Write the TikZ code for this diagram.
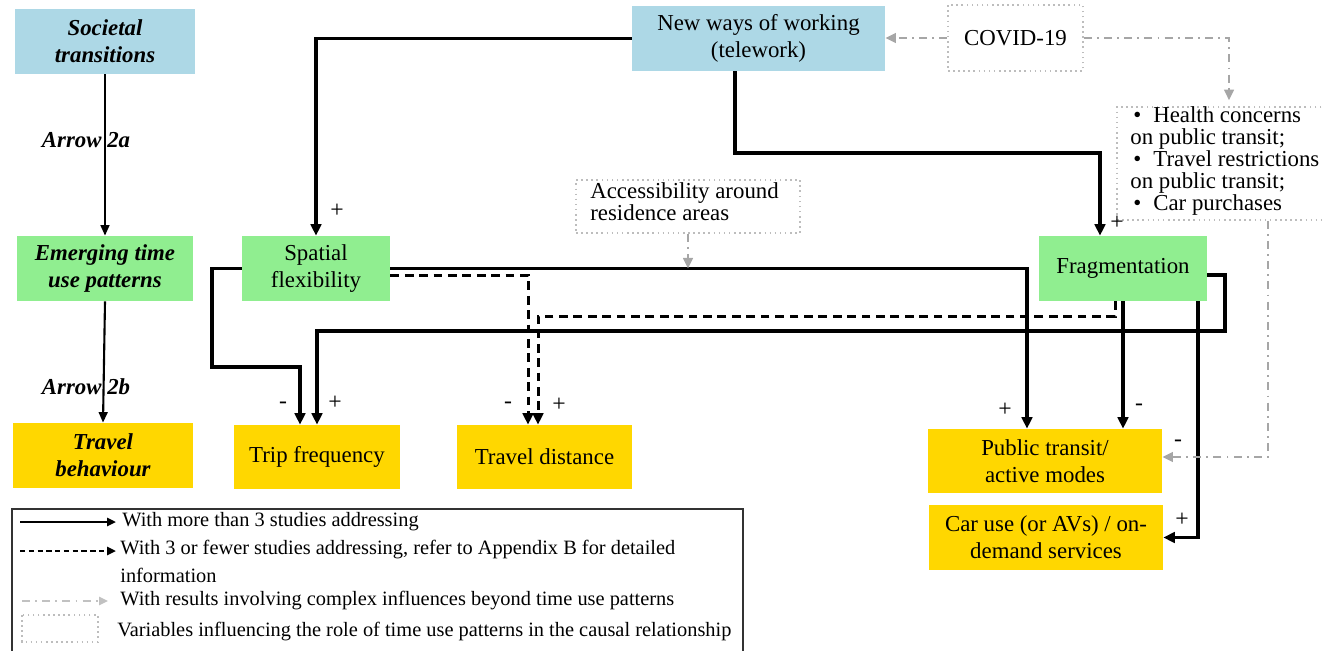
\documentclass[tikz,border=0pt]{standalone}
\usepackage{fontspec}
\setmainfont{Liberation Serif}
\usetikzlibrary{arrows.meta}
\definecolor{cblue}{HTML}{ADD8E6}
\definecolor{cgreen}{HTML}{90EE90}
\definecolor{cgold}{HTML}{FFD700}
\definecolor{cgray}{HTML}{A6A6A6}
\definecolor{cdot}{HTML}{BDBDBD}
\tikzset{
  wh/.style 2 args={minimum width=#1*0.02cm, minimum height=#2*0.02cm},
  box/.style={inner sep=0pt, align=center, font=\fontsize{13}{15.5}\selectfont},
  bluebox/.style={box, fill=cblue},
  greenbox/.style={box, fill=cgreen},
  goldbox/.style={box, fill=cgold},
  dotbox/.style={box, draw=cdot, line width=0.9pt, dotted},
  sign/.style={inner sep=0pt, font=\fontsize{13.5}{15}\selectfont},
  lab/.style={inner sep=0pt, font=\fontsize{13}{15}\selectfont\bfseries\itshape},
  legtext/.style={inner sep=0pt, anchor=west, font=\fontsize{11.6}{13}\selectfont},
  thinarrow/.style={line width=1.2pt, -{Triangle[length=6pt,width=5pt]}},
  solidarrow/.style={line width=1.9pt, -{Triangle[length=6.5pt,width=6pt]}},
  dasharrow/.style={line width=1.7pt, dash pattern=on 5pt off 3.2pt, -{Triangle[length=6.5pt,width=6pt]}},
  grayarrow/.style={line width=1.2pt, cgray, dash pattern=on 4.5pt off 3pt on 1pt off 3pt, -{Triangle[length=6pt,width=5.5pt,fill=cgray]}},
}
\begin{document}
\begin{tikzpicture}[x=0.02cm,y=-0.02cm]
\useasboundingbox (0,0) rectangle (1325,650);

% legend
\draw[line width=0.8pt, black!80] (12,509) rectangle (743,670);
\coordinate (l1a) at (20,522); \coordinate (l1b) at (116,522);
\coordinate (l2a) at (20,551); \coordinate (l2b) at (116,551);
\coordinate (l3a) at (22,601); \coordinate (l3b) at (108,601);
\draw[line width=1.4pt, -{Triangle[length=5pt,width=4.5pt]}] (l1a) -- (l1b);
\draw[line width=1.4pt, dash pattern=on 3pt off 2pt, -{Triangle[length=5pt,width=4.5pt]}] (l2a) -- (l2b);
\draw[line width=1.2pt, cgray!70, dash pattern=on 4.5pt off 3pt on 1pt off 3pt, -{Triangle[length=5pt,width=4.5pt,fill=cgray!70]}] (l3a) -- (l3b);
\draw[draw=cdot, line width=0.9pt, dotted] (22,615) rectangle (98,642);
\node[legtext] (t1) at (122,522) {With more than 3 studies addressing};
\node[legtext] (t2) at (120,550) {With 3 or fewer studies addressing, refer to Appendix B for detailed};
\node[legtext] (t3) at (120,575) {information};
\node[legtext] (t4) at (120,601) {With results involving complex influences beyond time use patterns};
\node[legtext] (t5) at (117,632) {Variables influencing the role of time use patterns in the causal relationship};

% left column
\node[bluebox, wh={180}{65}, font=\fontsize{13}{15.5}\selectfont\bfseries\itshape] (soc) at (105,41.5) {Societal\\transitions};
\node[greenbox, wh={176}{65}, font=\fontsize{13}{15.5}\selectfont\bfseries\itshape] (emg) at (105,268.5) {Emerging time\\use patterns};
\node[goldbox, wh={180}{65}, font=\fontsize{13}{15.5}\selectfont\bfseries\itshape] (tb) at (103,455.5) {Travel\\behaviour};
\node[lab] (a2a) at (86,140) {Arrow 2a};
\node[lab] (a2b) at (86,387) {Arrow 2b};
\draw[thinarrow] (soc) -- (emg);
\draw[thinarrow] (emg.south) -- (tb.north);

% main nodes
\node[bluebox, wh={253}{65}] (nw) at (758.5,38.5) {New ways of working\\(telework)};
\node[dotbox, wh={135}{66}] (cov) at (1015.5,38) {COVID-19};
\node[dotbox, wh={224}{113}] (hc) at (1229,163.5) {};
\node[inner sep=0pt, anchor=north west, align=left, font=\fontsize{13}{12.5}\selectfont] (hct) at (1130,106)
  {\hbox to 0.46cm{\hspace{0.06cm}\textbullet\hfil}Health concerns\\on public transit;\\
   \hbox to 0.46cm{\hspace{0.06cm}\textbullet\hfil}Travel restrictions\\on public transit;\\
   \hbox to 0.46cm{\hspace{0.06cm}\textbullet\hfil}Car purchases};
\node[dotbox, wh={224}{53}] (acc) at (688,206.5) {};
\node[inner sep=0pt, anchor=north west, align=left, font=\fontsize{13}{12.5}\selectfont] (acct) at (590,182)
  {Accessibility around\\residence areas};
\node[greenbox, wh={148}{65}] (sf) at (316,268.5) {Spatial\\flexibility};
\node[greenbox, wh={168}{65}] (frag) at (1123,268.5) {Fragmentation};
\node[goldbox, wh={166}{64}] (trip) at (317,457) {Trip frequency};
\node[goldbox, wh={175}{64}] (td) at (544.5,457) {Travel distance};
\node[goldbox, wh={234}{64}] (pt) at (1045,461) {Public transit/\\active modes};
\node[goldbox, wh={234}{65}] (car) at (1046,537.5) {Car use (or AVs) / on-\\demand services};

% connectors
\draw[solidarrow] (nw.west) -| (sf.north);
\draw[solidarrow] ([xshift=-23.5*0.02cm]nw.south) |- (900,153) -| ([xshift=-23*0.02cm]frag.north);
\draw[solidarrow] (sf.east) -| ([xshift=-18*0.02cm]pt.north);
\draw[solidarrow] (sf.west) -| (212,367) -| ([xshift=-17*0.02cm]trip.north);
\draw[solidarrow] ([yshift=-6.5*0.02cm]frag.east) -| (1225,331) -| (trip.north);
\draw[solidarrow] (frag.south) -- (frag.south |- pt.north);
\draw[solidarrow] ([xshift=75*0.02cm]frag.south) |- (car.east);
\draw[dasharrow] ([yshift=-6.5*0.02cm]sf.east) -| ([xshift=-16.5*0.02cm]td.north);
\draw[dasharrow] ([xshift=-8*0.02cm]frag.south) |- (800,316) -| ([xshift=-6.5*0.02cm]td.north);
\draw[grayarrow] (cov.west) -- (cov.west -| nw.east);
\draw[grayarrow] (cov.east) -| ([yshift=6*0.02cm]hc.north);
\draw[grayarrow] ([xshift=39*0.02cm]hc.south) |- ([yshift=4*0.02cm]pt.east);
\draw[grayarrow] (acc.south) -- (acc.south |- sf.east);

% signs
\node[sign] (s1) at (337,211) {+};
\node[sign] (s2) at (1117,223) {+};
\node[sign] (s3) at (283,405) {-};
\node[sign] (s4) at (335,403) {+};
\node[sign] (s5) at (508,405) {-};
\node[sign] (s6) at (559,405) {+};
\node[sign] (s7) at (1005,410) {+};
\node[sign] (s8) at (1139,407) {-};
\node[sign] (s9) at (1178,443) {-};
\node[sign] (s10) at (1182,520) {+};
\end{tikzpicture}
\end{document}
